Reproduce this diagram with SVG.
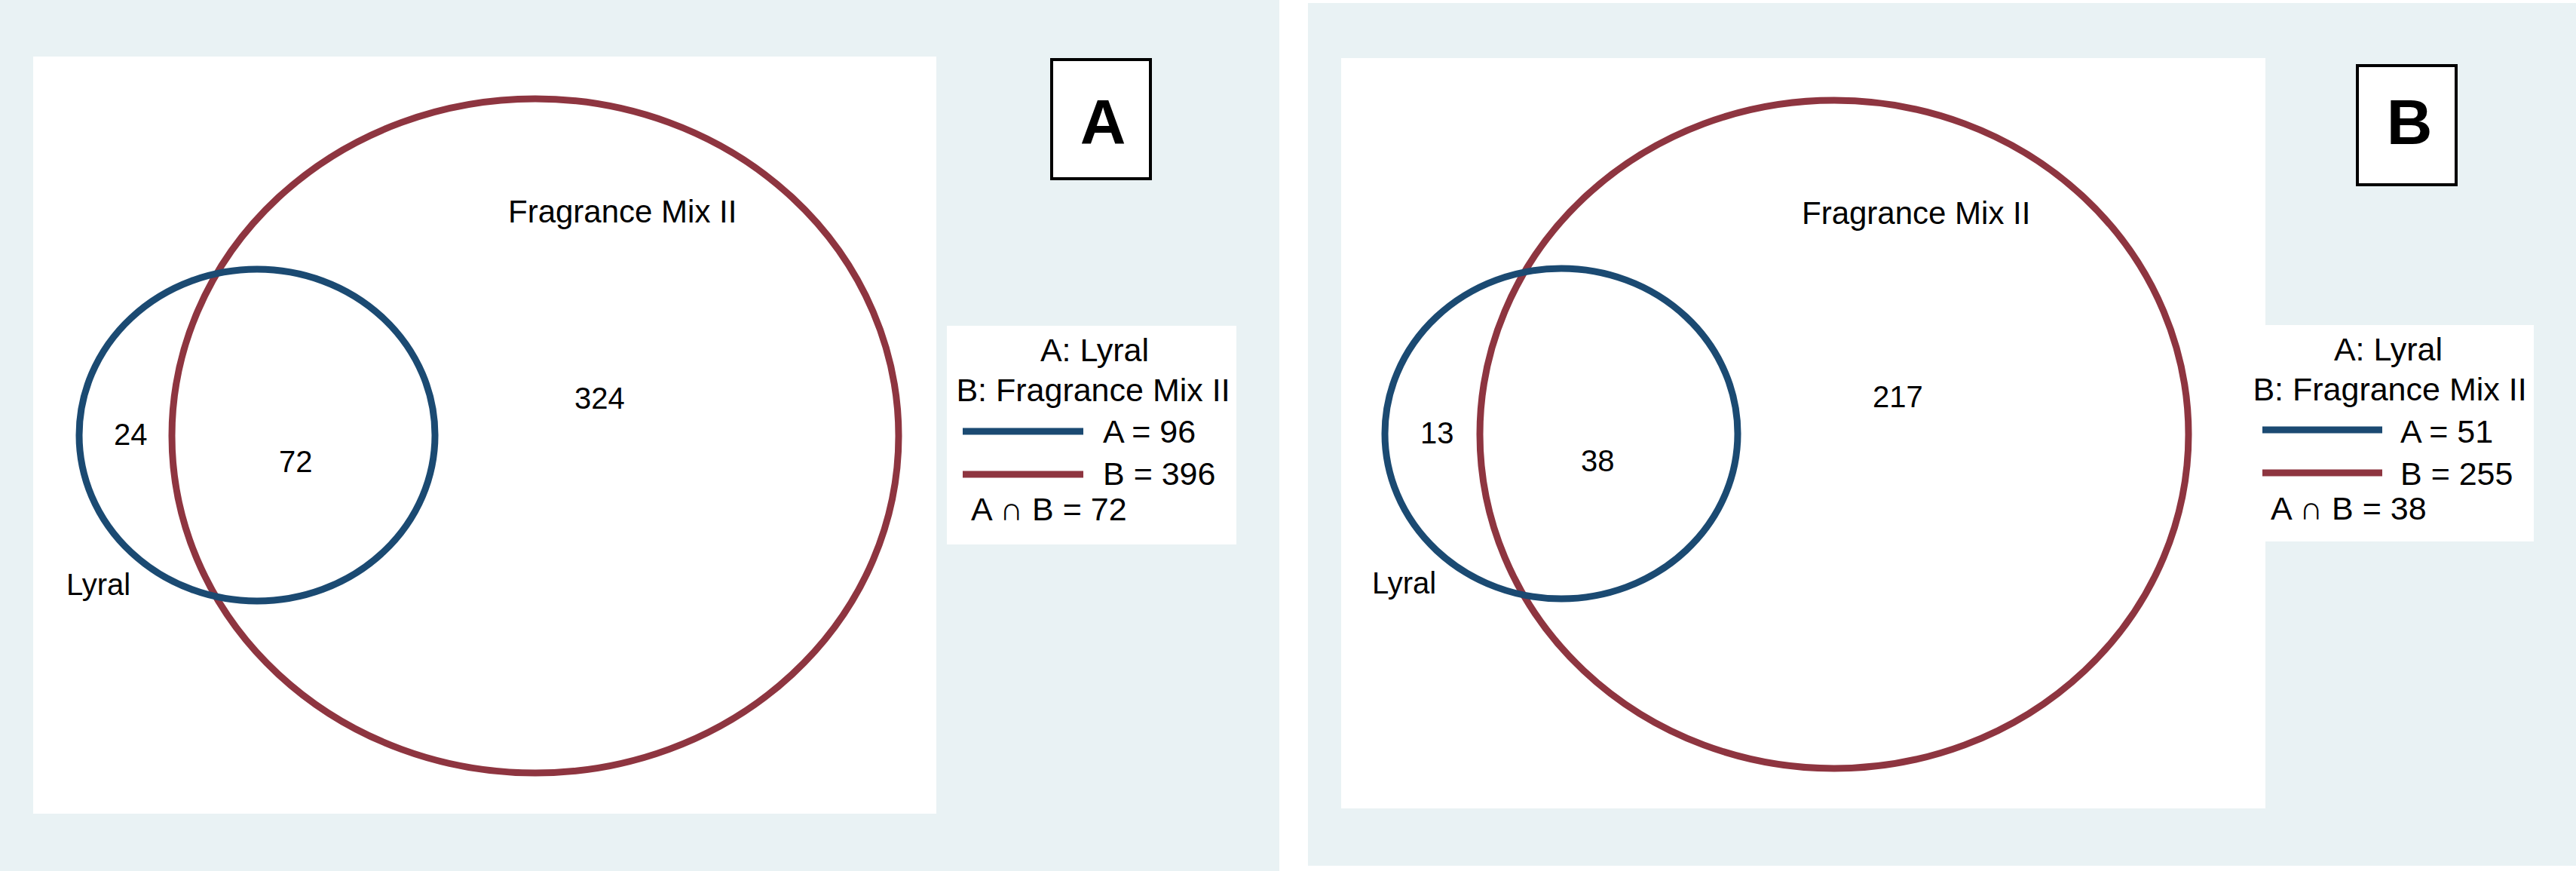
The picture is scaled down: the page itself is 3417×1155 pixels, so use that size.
<svg xmlns="http://www.w3.org/2000/svg" width="3417" height="1155" viewBox="0 0 3417 1155">
<style>
text{font-family:"Liberation Sans",Arial,sans-serif;fill:#000}
.bg{fill:#e9f2f4}
.w{fill:#fff}
.ea{fill:none;stroke:#1b4a72;stroke-width:9}
.eb{fill:none;stroke:#8e3540;stroke-width:9}
.lab{font-size:42px}
.num{font-size:40px}
.leg{font-size:43px}
.box{fill:#fff;stroke:#000;stroke-width:4}
.big{font-size:84px;font-weight:bold}
</style>
<rect x="0" y="0" width="3417" height="1155" fill="#fff"/>
<g id="panelA">
<rect class="bg" x="0" y="0" width="1697" height="1155"/>
<rect class="w" x="44" y="75" width="1198" height="1004"/>
<ellipse class="eb" cx="710" cy="578" rx="482" ry="447"/>
<ellipse class="ea" cx="341" cy="577" rx="236" ry="220"/>
<text class="lab" x="674" y="295">Fragrance Mix II</text>
<text class="num" x="762" y="542">324</text>
<text class="num" x="151" y="590">24</text>
<text class="num" x="370" y="626">72</text>
<text class="num" x="88" y="789">Lyral</text>
<g id="boxA"><rect class="box" x="1395" y="79" width="131" height="158"/><text class="big" x="1463" y="191" text-anchor="middle">A</text></g>
<g id="legendA">
<rect class="w" x="1256" y="432" width="384" height="290"/>
<text class="leg" x="1452" y="479" text-anchor="middle">A: Lyral</text>
<text class="leg" x="1450" y="532" text-anchor="middle">B: Fragrance Mix II</text>
<line class="ea" x1="1277" y1="572" x2="1437" y2="572"/>
<line class="eb" x1="1277" y1="629" x2="1437" y2="629"/>
<text class="leg" x="1463" y="587">A = 96</text>
<text class="leg" x="1463" y="643">B = 396</text>
<text class="leg" x="1288" y="690">A ∩ B = 72</text>
</g>
</g>
<g id="panelB">
<rect class="bg" x="1735" y="4" width="1682" height="1144"/>
<rect class="w" x="1779" y="77" width="1226" height="995"/>
<ellipse class="eb" cx="2433" cy="576" rx="470" ry="443"/>
<ellipse class="ea" cx="2071" cy="575" rx="234" ry="219"/>
<text class="lab" x="2390" y="297">Fragrance Mix II</text>
<text class="num" x="2484" y="540">217</text>
<text class="num" x="1884" y="588">13</text>
<text class="num" x="2097" y="625">38</text>
<text class="num" x="1820" y="787">Lyral</text>
<g id="boxB"><rect class="box" x="3127" y="87" width="131" height="158"/><text class="big" x="3196" y="191" text-anchor="middle">B</text></g>
<g id="legendB">
<rect class="w" x="2981" y="431" width="380" height="287"/>
<text class="leg" x="3168" y="478" text-anchor="middle">A: Lyral</text>
<text class="leg" x="3170" y="531" text-anchor="middle">B: Fragrance Mix II</text>
<line class="ea" x1="3001" y1="570" x2="3160" y2="570"/>
<line class="eb" x1="3001" y1="627" x2="3160" y2="627"/>
<text class="leg" x="3184" y="587">A = 51</text>
<text class="leg" x="3184" y="643">B = 255</text>
<text class="leg" x="3012" y="689">A ∩ B = 38</text>
</g>
</g>
<g id="connectors"/>
</svg>
